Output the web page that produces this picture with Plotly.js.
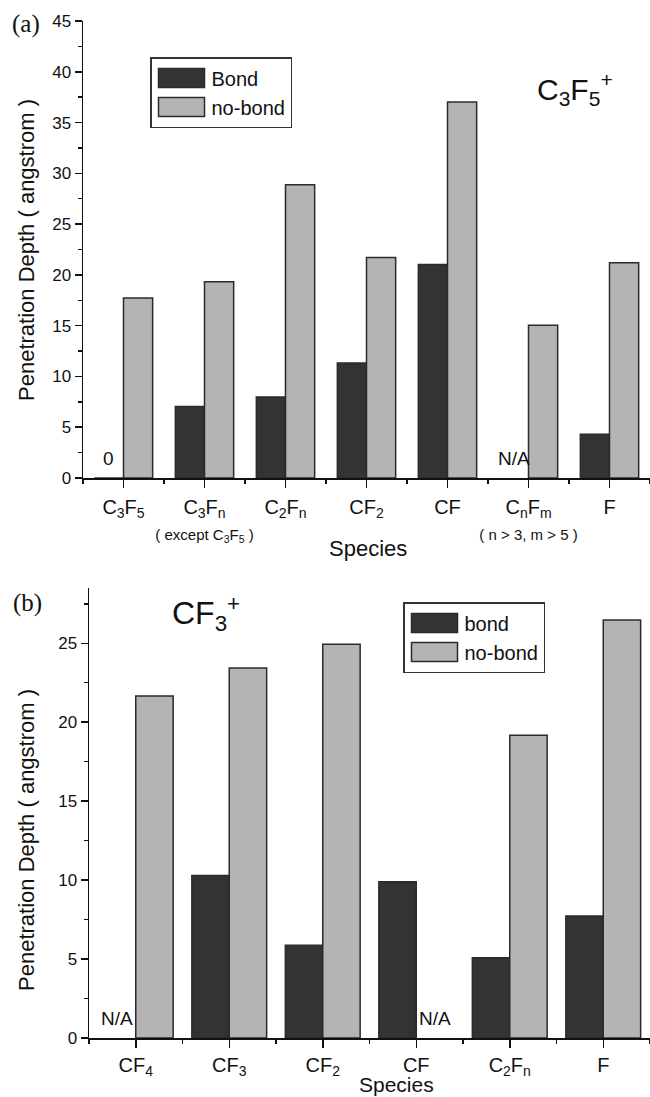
<!DOCTYPE html>
<html>
<head>
<meta charset="utf-8">
<script src="https://cdn.plot.ly/plotly-3.0.1.min.js"></script>
<style>html,body{margin:0;padding:0;background:#fff;}#chart{width:650px;height:1097px;}</style>
</head>
<body>
<div id="chart"></div>
<script>
// ---- Data: panel (a) C3F5+ ----
const topLabels = [
  'C<sub>3</sub>F<sub>5</sub>',
  'C<sub>3</sub>F<sub>n</sub><br><span style="font-size:15px">( except C<sub>3</sub>F<sub>5</sub> )</span>',
  'C<sub>2</sub>F<sub>n</sub>',
  'CF<sub>2</sub>',
  'CF',
  'C<sub>n</sub>F<sub>m</sub><br><span style="font-size:15px">( n &gt; 3, m &gt; 5 )</span>',
  'F'
];
const topBond   = [0, 7.05, 7.97, 11.33, 21.03, null, 4.31];
const topNoBond = [17.73, 19.33, 28.87, 21.71, 37.03, 15.05, 21.19];

// ---- Data: panel (b) CF3+ ----
const botLabels = [
  'CF<sub>4</sub>',
  'CF<sub>3</sub>',
  'CF<sub>2</sub>',
  'CF',
  'C<sub>2</sub>F<sub>n</sub>',
  'F'
];
const botBond   = [null, 10.29, 5.88, 9.89, 5.08, 7.73];
const botNoBond = [21.66, 23.43, 24.94, null, 19.18, 26.48];

// ---- Styles ----
const W = 650, H = 1097;
const FONT = 'Liberation Sans, Arial, sans-serif';
const DARK = '#333333', LIGHT = '#b4b4b4', EDGE = '#2b2b2b';
const topW = 0.36, botW = 0.40;

const topX = topLabels.map((_, i) => i);
const botX = botLabels.map((_, i) => i);

function bars(x, y, name, color, width, offset, xa, ya, legend) {
  return {
    type: 'bar', x: x, y: y, name: name, width: width, offset: offset,
    xaxis: xa, yaxis: ya, legend: legend,
    marker: {color: color, line: {color: EDGE, width: 1.5}},
    hoverinfo: 'x+y'
  };
}

const traces = [
  bars(topX, topBond, 'Bond', DARK, topW, -topW, 'x', 'y', 'legend'),
  bars(topX, topNoBond, 'no-bond', LIGHT, topW, 0, 'x', 'y', 'legend'),
  bars(botX, botBond, 'bond', DARK, botW, -botW, 'x2', 'y2', 'legend2'),
  bars(botX, botNoBond, 'no-bond', LIGHT, botW, 0, 'x2', 'y2', 'legend2')
];

// missing / zero markers
const notes = [];
function addNotes(vals, xa, ya, offset, width) {
  vals.forEach((v, i) => {
    if (v === null || v === 0) {
      notes.push({
        x: i + offset + width / 2, y: 0, xref: xa, yref: ya,
        text: v === null ? 'N/A' : '0', showarrow: false,
        xanchor: 'center', yanchor: 'bottom', yshift: 7,
        font: {family: FONT, size: 19, color: '#111'}
      });
    }
  });
}
addNotes(topBond, 'x', 'y', -topW, topW);
addNotes(topNoBond, 'x', 'y', 0, topW);
addNotes(botBond, 'x2', 'y2', -botW, botW);
addNotes(botNoBond, 'x2', 'y2', 0, botW);

function px(v) { return v / W; }
function py(v) { return 1 - v / H; }

const paperText = (x, y, text, size, extra) => Object.assign({
  x: px(x), y: py(y), xref: 'paper', yref: 'paper', text: text, showarrow: false,
  xanchor: 'center', yanchor: 'middle',
  font: {family: FONT, size: size, color: '#111'}
}, extra || {});

const SERIF = {family: 'Liberation Serif, Times New Roman, serif', size: 25, color: '#111'};
const annotations = notes.concat([
  paperText(26, 24, '(a)', 25, {font: SERIF}),
  paperText(27, 603, '(b)', 25, {font: SERIF}),
  paperText(26, 250, 'Penetration Depth ( angstrom )', 22, {textangle: -90}),
  paperText(26, 840, 'Penetration Depth ( angstrom )', 22, {textangle: -90}),
  paperText(368, 548, 'Species', 22),
  paperText(396, 1084, 'Species', 21),
  paperText(535, 89, 'C<sub>3</sub>F<sub>5</sub><sup>+</sup>', 30, {xanchor: 'left'}),
  paperText(170, 613, 'CF<sub>3</sub><sup>+</sup>', 32, {xanchor: 'left'})
]);

function xAxis(domain, n, labels, anchor, standoff) {
  const vals = labels.map((_, i) => i);
  const minorVals = [];
  for (let i = 0; i <= n; i++) minorVals.push(i - 0.5);
  return {
    domain: domain, anchor: anchor, range: [-0.5, n - 0.5],
    tickmode: 'array', tickvals: vals, ticktext: labels,
    ticks: 'outside', ticklen: 8, tickwidth: 1.5, tickcolor: '#111',
    minor: {tickmode: 'array', tickvals: minorVals, ticks: 'outside', ticklen: 4, tickwidth: 1.5, tickcolor: '#111'},
    showline: true, linecolor: '#111', linewidth: 1.5,
    showgrid: false, zeroline: false, fixedrange: true,
    tickfont: {family: FONT, size: 20, color: '#111'},
    ticklabelstandoff: standoff
  };
}
function yAxis(domain, range, anchor) {
  return {
    domain: domain, anchor: anchor, range: range,
    tickmode: 'linear', tick0: 0, dtick: 5,
    ticks: 'outside', ticklen: 7, tickwidth: 1.5, tickcolor: '#111',
    minor: {tick0: 0, dtick: 2.5, ticks: 'outside', ticklen: 4, tickwidth: 1.5, tickcolor: '#111'},
    showline: true, linecolor: '#111', linewidth: 1.5,
    showgrid: false, zeroline: false, fixedrange: true,
    tickfont: {family: FONT, size: 17, color: '#111'}
  };
}

const legendStyle = (x, y) => ({
  x: px(x), y: py(y), xanchor: 'left', yanchor: 'top',
  bgcolor: '#fff', bordercolor: '#333', borderwidth: 1.5,
  font: {family: FONT, size: 20, color: '#111'},
  itemwidth: 50,
  tracegroupgap: 0, traceorder: 'normal'
});

const layout = {
  width: W, height: H,
  margin: {l: 0, r: 0, t: 0, b: 0},
  paper_bgcolor: '#fff', plot_bgcolor: '#fff',
  barmode: 'group',
  showlegend: true,
  legend: legendStyle(150, 57),
  legend2: legendStyle(403, 602),
  xaxis: xAxis([83 / W, 1], topLabels.length, topLabels, 'y', 2),
  yaxis: yAxis([py(478), py(21)], [0, 45], 'x'),
  xaxis2: xAxis([89 / W, 1], botLabels.length, botLabels, 'y2', 0),
  yaxis2: yAxis([py(1038), py(588)], [0, 28.5], 'x2'),
  annotations: annotations
};

Plotly.newPlot('chart', traces, layout, {displayModeBar: false, staticPlot: true}).then(function (gd) {
  // enlarge the legend swatches to wide rectangles like the original figure
  gd.querySelectorAll('.legendpoints path').forEach(function (p) {
    p.setAttribute('d', 'M23,9.5H-23V-9.5H23Z');
  });
});
</script>
</body>
</html>
